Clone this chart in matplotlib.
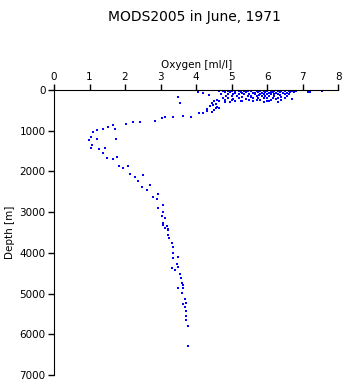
import matplotlib.pyplot as plt

# Oxygen [ml/l] and depth [m]
surf_oxy = [4.05, 4.2, 4.65, 4.75, 4.9, 5.0, 5.1, 5.2, 5.35, 5.45, 5.55, 5.7, 5.8, 5.9,
            6.0, 6.1, 6.2, 6.3, 6.4, 6.5, 6.6, 6.7, 6.8, 7.15, 7.2, 7.55,
            4.8, 4.95, 5.1, 5.3, 5.4, 5.6, 5.75, 5.85, 5.95, 6.05, 6.15, 6.25, 6.35,
            6.45, 6.55, 6.65, 6.75,
            4.7, 4.9, 5.05, 5.2, 5.35, 5.5, 5.65, 5.8, 5.9, 6.0, 6.1, 6.2, 6.3, 6.5, 6.6,
            4.85, 5.0, 5.15, 5.3, 5.45, 5.55, 5.7, 5.85, 5.95, 6.05, 6.2, 6.4, 6.55,
            4.75, 4.9, 5.2, 5.4, 5.6, 5.75, 5.9, 6.0, 6.15, 6.3, 6.5, 6.7,
            4.6, 4.8, 5.0, 5.25, 5.5, 5.7, 5.8, 6.0, 6.1, 6.4,
            4.5, 4.65, 4.8, 4.95, 5.1, 5.3, 5.6, 5.9, 6.05, 6.3,
            3.5, 3.55, 4.35, 5.25, 5.65, 6.35, 5.55, 5.05, 6.25, 5.78, 6.12]
surf_depth = [40, 65, 30, 25, 35, 28, 32, 25, 30, 35, 25, 30, 28, 32,
              25, 30, 35, 28, 32, 25, 30, 35, 28, 40, 40, 20,
              60, 55, 65, 70, 58, 62, 55, 68, 60, 65, 58, 70, 55,
              62, 65, 58, 60,
              100, 95, 105, 110, 98, 102, 95, 108, 100, 105, 98, 110, 95, 100, 105,
              150, 145, 155, 160, 148, 152, 145, 158, 150, 155, 148, 160, 150,
              200, 195, 205, 210, 198, 202, 195, 208, 200, 205, 198, 210,
              250, 245, 255, 260, 248, 252, 245, 258, 250, 255,
              280, 275, 285, 290, 278, 282, 275, 288, 280, 285,
              165, 310, 123, 45, 75, 130, 180, 230, 230, 125, 75]

prof_oxy = [4.45, 4.55, 4.4, 4.6, 4.3, 4.5, 4.3, 4.45, 4.2, 4.65, 4.48, 4.56,
            4.09, 3.85, 3.62, 3.36, 3.13, 3.03, 2.85, 2.42, 2.23, 2.03, 1.67, 1.53,
            1.72, 1.37, 1.2, 1.11, 1.03, 0.99, 1.2, 1.75, 1.06, 1.03, 1.28, 1.44,
            1.37, 1.48, 1.67, 1.77, 1.84, 1.95, 2.09, 2.14, 2.28, 2.5, 2.37, 2.47,
            2.7, 2.61, 2.78, 2.94, 2.89, 3.06, 2.94, 3.08, 3.03, 3.13, 3.08, 3.17,
            3.22, 3.08, 3.13, 3.22, 3.22, 3.25, 3.31, 3.34, 3.36, 3.5, 3.36, 3.46,
            3.5, 3.31, 3.41, 3.55, 3.57, 3.6, 3.62, 3.5, 3.62, 3.6, 3.69, 3.62,
            3.72, 3.69, 3.72, 3.72, 3.72, 3.76, 3.78]
prof_depth = [330, 350, 400, 420, 460, 480, 520, 550, 560, 450, 370, 440,
              575, 655, 640, 672, 672, 697, 754, 778, 794, 843, 860, 901,
              966, 966, 983, 1040, 1147, 1229, 1204, 1212, 1351, 1433, 1457, 1433,
              1556, 1679, 1695, 1654, 1867, 1924, 1867, 2064, 2145, 2088, 2228, 2375,
              2334, 2457, 2621, 2563, 2686, 2826, 2891, 2989, 3096, 3153, 3260, 3342,
              3423, 3317, 3398, 3440, 3563, 3644, 3767, 3865, 4012, 4095, 4135, 4275,
              4341, 4381, 4423, 4521, 4627, 4750, 4791, 4856, 4873, 4996, 5143, 5258,
              5225, 5324, 5422, 5553, 5651, 5799, 6290]

oxy = surf_oxy + prof_oxy
depth = surf_depth + prof_depth

fig = plt.figure(figsize=(3.45, 3.84), dpi=100)
ax = fig.add_axes([0.1565, 0.0234, 0.824, 0.7422])

ax.scatter(oxy, depth, s=4, marker='s', color='#0000ff', linewidths=0)

ax.set_xlim(0, 8)
ax.set_ylim(7000, 0)
ax.set_xticks(range(0, 9))
ax.set_yticks(range(0, 8000, 1000))
ax.xaxis.tick_top()
ax.xaxis.set_label_position('top')
ax.spines['right'].set_visible(False)
ax.spines['bottom'].set_visible(False)
ax.tick_params(labelsize=7.5, length=4, width=1, pad=2)
ax.set_xlabel('Oxygen [ml/l]', fontsize=7.5, labelpad=3)
ax.set_ylabel('Depth [m]', fontsize=7.5, labelpad=3)

fig.text(0.565, 0.975, 'MODS2005 in June, 1971', ha='center', va='top', fontsize=10)

fig.savefig('out.png', dpi=100)
